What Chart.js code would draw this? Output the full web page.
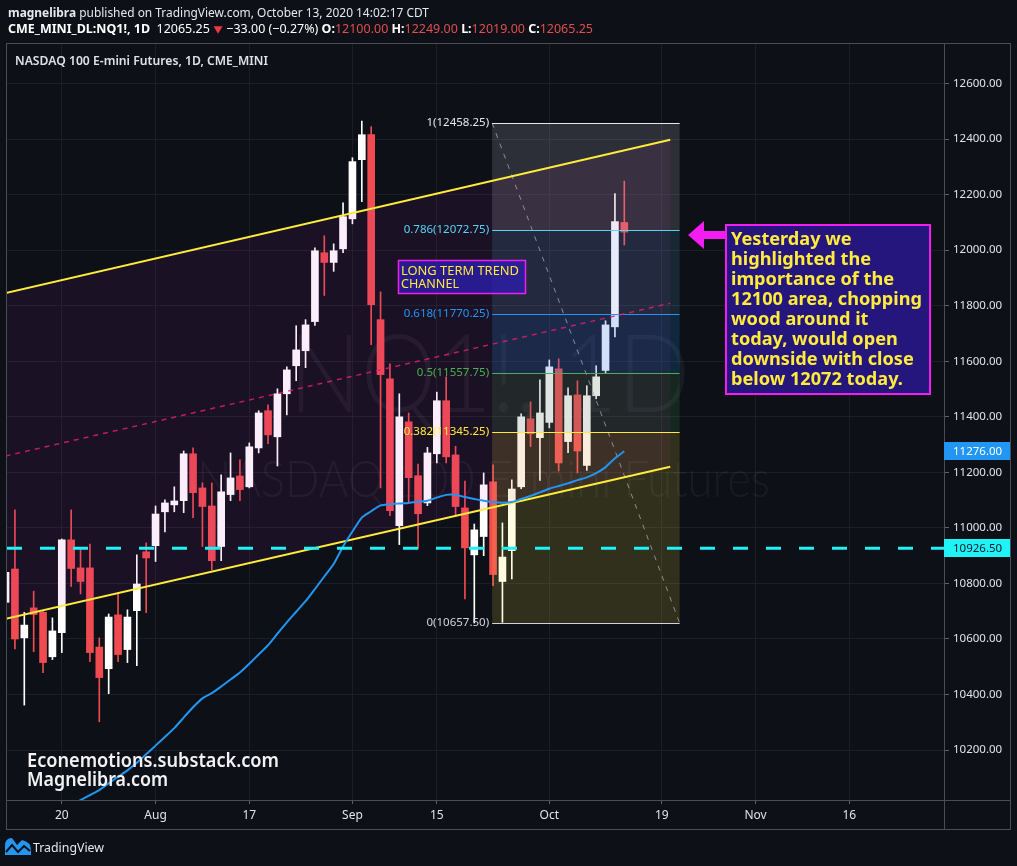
<!DOCTYPE html>
<html><head><meta charset="utf-8">
<script src="https://cdn.jsdelivr.net/npm/chart.js@4.4.0/dist/chart.umd.min.js"></script>
<style>html,body{margin:0;padding:0;background:#0d1017;overflow:hidden}canvas{display:block}</style>
</head><body><canvas id="c" width="1017" height="866"></canvas>
<script>
// ---------------- DATA ----------------
const dates = ['Jul 10','Jul 13','Jul 14','Jul 15','Jul 16','Jul 17','Jul 20','Jul 21','Jul 22','Jul 23','Jul 24','Jul 27','Jul 28','Jul 29','Jul 30','Jul 31',
'Aug 3','Aug 4','Aug 5','Aug 6','Aug 7','Aug 10','Aug 11','Aug 12','Aug 13','Aug 14','Aug 17','Aug 18','Aug 19','Aug 20','Aug 21','Aug 24','Aug 25','Aug 26','Aug 27','Aug 28','Aug 31',
'Sep 1','Sep 2','Sep 3','Sep 4','Sep 8','Sep 9','Sep 10','Sep 11','Sep 14','Sep 15','Sep 16','Sep 17','Sep 18','Sep 21','Sep 22','Sep 23','Sep 24','Sep 25','Sep 28','Sep 29','Sep 30',
'Oct 1','Oct 2','Oct 5','Oct 6','Oct 7','Oct 8','Oct 9','Oct 12','Oct 13'];
const opens = [10732,10852,10604,10712,10696,10536,10623,10957,10856,10856,
10571,10493,10687,10562,10702,10914,10936,11058,11083,11098,
11267,11144,11079,10933,11120,11187,11148,11288,11422,11328,
11483,11584,11638,11743,11991,11956,12005,12113,12326,12416,
11750,11537,11008,11382,11188,11090,11267,11458,11263,11072,
10903,10969,11166,10807,10918,11148,11393,11325,11380,11573,
11311,11479,11225,11476,11567,11724,12100];
const highs = [10880,11065,10696,10772,10700,10676,10960,11065,10921,10942,
10604,10690,10766,10705,10903,10946,11079,11101,11148,11277,
11288,11162,11162,11191,11270,11245,11306,11422,11443,11501,
11580,11728,11750,12009,12052,12023,12171,12333,12465,12445,
11850,11591,11483,11414,11230,11290,11489,11544,11294,11169,
11014,11198,11227,11018,11173,11411,11454,11533,11605,11609,
11504,11530,11512,11584,11746,12204,12249];
const lows = [10700,10564,10362,10554,10479,10526,10551,10789,10762,10518,
10302,10403,10518,10515,10504,10695,10879,10986,11058,11055,
11037,10933,10849,10882,11098,11098,11144,11270,11303,11223,
11407,11530,11577,11729,11837,11924,11991,12095,12175,11660,
11144,11044,10940,11092,10924,11080,11234,11234,11041,10744,
10657.5,10900,10792,10660,10816,11141,11293,11171,11360,11205,
11271,11198,11207,11465,11556,11688,12019];
const closes = [10840,10600,10650,10688,10515,10629,10957,10854,10807,10551,
10461,10679,10544,10679,10798,10892,11050,11090,11097,11267,
11127,11077,10882,11130,11180,11138,11292,11414,11335,11483,
11569,11641,11731,11998,11956,11998,12121,12319,12416,11804,
11552,11062,11400,11181,11051,11270,11458,11256,11077,10928,
10993,11155,10832,10895,11140,11400,11339,11414,11580,11234,
11476,11277,11476,11544,11731,12103,12065.25];
const sma50 = [9872,9890,9909,9927,9946,9964,9982,10001,10020,10038,
10056,10080,10104,10127,10154,10185,10216,10247,10279,10317,
10354,10386,10405,10429,10454,10479,10511,10544,10578,10619,
10660,10698,10736,10780,10825,10870,10933,10987,11037,11060,
11081,11085,11088,11090,11094,11098,11109,11119,11119,11111,
11104,11098,11093,11091,11093,11104,11115,11128,11141,11151,
11161,11172,11182,11197,11219,11251,11276];
const priceTicks = [10200,10400,10600,10800,11000,11200,11400,11600,11800,12000,12200,12400,12600];
const timeTickIndex = [6,16,26,37,46,58,70,80,90];
const timeTickLabels = ['20','Aug','17','Sep','15','Oct','19','Nov','16'];
const channelIndex = [0, 70.9];
const channelUpper = [11845.6, 12397.6];
const channelLower = [10672.4, 11220.5];
const fibIndex = [51.9, 71.9];
const fibRatios = ['1','0.786','0.618','0.5','0.382','0'];
const fibPrices = [12458.25, 12072.75, 11770.25, 11557.75, 11345.25, 10657.5];
const supportLevel = 10926.5;
const xRange = [0.155, 100.1];
const yRange = [10020.2, 12746.2];

// ---------------- STYLE ----------------
const BG = '#0d1017';
const UP = '#ffffff', DN = '#ef4b50';
const TXT = '#d1d4dc';
const RED_TXT = '#e04f4f';
const FONT = '"Noto Sans", "DejaVu Sans", sans-serif';
const fibLineColors = ['#e6e7ec','#5ad2f4','#2196f3','#4caf50','#ffeb3b','#d1d4dc'];
const fibBandColors = ['rgba(200,202,214,0.17)','rgba(90,210,244,0.13)','rgba(33,150,243,0.18)','rgba(76,175,80,0.15)','rgba(255,235,59,0.15)'];
const CYAN = '#1ff3f7';
const MAGENTA = '#f21df0';

const candleColor = c => (closes[c.dataIndex] >= opens[c.dataIndex] ? UP : DN);

function fitText(ctx, text, x, y, w, font, color, baseline) {
  ctx.save();
  ctx.font = font;
  const m = ctx.measureText(text).width;
  ctx.translate(x, y);
  ctx.scale(w / m, 1);
  ctx.fillStyle = color;
  ctx.textAlign = 'left';
  ctx.textBaseline = baseline || 'middle';
  ctx.fillText(text, 0, 0);
  ctx.restore();
}
function drawSegs(ctx, segs, x, y, totalW, size) {
  let tot = 0;
  segs.forEach(s => {
    ctx.font = (s.b ? 'bold ' : '') + size + 'px ' + FONT;
    s.w = s.tri ? size * 0.8 : ctx.measureText(s.t).width;
    tot += s.w;
  });
  const sc = totalW / tot;
  ctx.save();
  ctx.translate(x, y);
  ctx.scale(sc, 1);
  ctx.textBaseline = 'middle';
  ctx.textAlign = 'left';
  let cx = 0;
  segs.forEach(s => {
    ctx.fillStyle = s.c;
    if (s.tri) {
      ctx.beginPath();
      ctx.moveTo(cx + 0.5, -size * 0.25);
      ctx.lineTo(cx + s.w - 0.5, -size * 0.25);
      ctx.lineTo(cx + s.w / 2, size * 0.33);
      ctx.closePath();
      ctx.fill();
    } else {
      ctx.font = (s.b ? 'bold ' : '') + size + 'px ' + FONT;
      ctx.fillText(s.t, cx, 0);
    }
    cx += s.w;
  });
  ctx.restore();
}

const overlay = {
  id: 'overlay',
  beforeDatasetsDraw(chart) {
    const ctx = chart.ctx, a = chart.chartArea;
    ctx.save();
    ctx.beginPath(); ctx.rect(a.left, a.top, a.right - a.left, a.bottom - a.top); ctx.clip();
    const wm = 'rgba(175,178,200,0.075)';
    fitText(ctx, 'NQ1!, 1D', 289, 412, 401, '300 108px Lato, ' + FONT, wm, 'alphabetic');
    fitText(ctx, 'NASDAQ 100 E-mini Futures', 197, 497, 573, '300 51px Lato, ' + FONT, wm, 'alphabetic');
    ctx.restore();
  },
  afterDatasetDraw(chart, args) {
    if (args.index !== 1) return;
    const ctx = chart.ctx, a = chart.chartArea, xs = chart.scales.x, ys = chart.scales.y;
    ctx.save();
    ctx.beginPath(); ctx.rect(a.left, a.top, a.right - a.left, a.bottom - a.top); ctx.clip();
    // channel fill
    ctx.beginPath();
    channelIndex.forEach((v, k) => {
      const px = xs.getPixelForValue(v), py = ys.getPixelForValue(channelUpper[k]);
      k ? ctx.lineTo(px, py) : ctx.moveTo(px, py);
    });
    for (let k = channelIndex.length - 1; k >= 0; k--) ctx.lineTo(xs.getPixelForValue(channelIndex[k]), ys.getPixelForValue(channelLower[k]));
    ctx.closePath();
    ctx.fillStyle = 'rgba(210,40,190,0.08)';
    ctx.fill();
    // fib bands
    const fx0 = xs.getPixelForValue(fibIndex[0]), fx1 = xs.getPixelForValue(fibIndex[1]);
    for (let k = 0; k < fibPrices.length - 1; k++) {
      const y0 = ys.getPixelForValue(fibPrices[k]), y1 = ys.getPixelForValue(fibPrices[k + 1]);
      ctx.fillStyle = fibBandColors[k];
      ctx.fillRect(fx0, y0, fx1 - fx0, y1 - y0);
    }
    // fib trend diagonal
    ctx.beginPath();
    ctx.setLineDash([5, 6]);
    ctx.strokeStyle = 'rgba(170,173,185,0.75)';
    ctx.lineWidth = 1;
    ctx.moveTo(fx0, ys.getPixelForValue(fibPrices[0]));
    ctx.lineTo(fx1, ys.getPixelForValue(fibPrices[fibPrices.length - 1]));
    ctx.stroke();
    ctx.setLineDash([]);
    // fib lines
    fibPrices.forEach((p, k) => {
      const y = Math.round(ys.getPixelForValue(p)) + 0.5;
      ctx.beginPath(); ctx.moveTo(fx0, y); ctx.lineTo(fx1, y);
      ctx.strokeStyle = fibLineColors[k]; ctx.lineWidth = 1; ctx.stroke();
    });
    ctx.restore();
    // fib labels
    ctx.save();
    ctx.font = '11.5px ' + FONT;
    ctx.textAlign = 'right';
    ctx.textBaseline = 'middle';
    fibPrices.forEach((p, k) => {
      ctx.fillStyle = fibLineColors[k];
      ctx.fillText(fibRatios[k] + '(' + p.toFixed(2) + ')', fx0 - 3, ys.getPixelForValue(p));
    });
    ctx.restore();
  },
  afterDraw(chart) {
    const ctx = chart.ctx, a = chart.chartArea, ys = chart.scales.y;
    // frame
    ctx.save();
    ctx.strokeStyle = '#4a4d58';
    ctx.lineWidth = 1;
    ctx.strokeRect(6.5, 43.5, 1004, 786);
    ctx.beginPath();
    ctx.moveTo(a.right + 0.5, 43); ctx.lineTo(a.right + 0.5, 830);
    ctx.moveTo(7, a.bottom + 0.5); ctx.lineTo(1011, a.bottom + 0.5);
    ctx.stroke();
    // price axis highlight labels
    const boxLabel = (val, bg, fg) => {
      const y = ys.getPixelForValue(val);
      ctx.fillStyle = bg;
      ctx.fillRect(a.right, Math.round(y) - 9, 66, 18);
      ctx.font = '11.5px ' + FONT;
      ctx.textAlign = 'left'; ctx.textBaseline = 'middle';
      ctx.fillStyle = fg;
      ctx.fillText(val.toFixed(2), a.right + 9, y);
    };
    boxLabel(sma50[sma50.length - 1], '#2196f3', '#ffffff');
    boxLabel(supportLevel, CYAN, '#131722');
    // small channel label box
    ctx.fillStyle = 'rgba(44,30,170,0.8)';
    ctx.fillRect(398, 260, 128, 34);
    ctx.strokeStyle = MAGENTA; ctx.lineWidth = 1.5;
    ctx.strokeRect(398.5, 260.5, 127, 33);
    fitText(ctx, 'LONG TERM TREND', 401, 271, 118, '12.5px ' + FONT, '#ffeb3b');
    fitText(ctx, 'CHANNEL', 401, 284.5, 58, '12.5px ' + FONT, '#ffeb3b');
    // annotation box
    ctx.fillStyle = '#24167c';
    ctx.fillRect(726, 225, 204, 169);
    ctx.strokeStyle = MAGENTA; ctx.lineWidth = 2;
    ctx.strokeRect(726, 225, 204, 169);
    const lines = ['Yesterday we','highlighted the','importance of the','12100 area, chopping','wood around it','today, would open','downside with close','below 12072 today.'];
    const f = 'bold 18px ' + FONT;
    ctx.font = f;
    const sc = 191 / ctx.measureText(lines[3]).width;
    lines.forEach((t, k) => {
      ctx.font = f;
      fitText(ctx, t, 731, 240 + k * 20, ctx.measureText(t).width * sc, f, '#ffeb3b');
    });
    // arrow
    ctx.fillStyle = MAGENTA;
    ctx.beginPath();
    ctx.moveTo(688, 235); ctx.lineTo(704, 221); ctx.lineTo(704, 231); ctx.lineTo(726, 231);
    ctx.lineTo(726, 239); ctx.lineTo(704, 239); ctx.lineTo(704, 249); ctx.closePath();
    ctx.fill();
    // header
    drawSegs(ctx, [{t:'magnelibra', b:1, c:'#e6e8ee'}, {t:' published on TradingView.com, October 13, 2020 14:02:17 CDT', c:'#e6e8ee'}], 8, 13.5, 421, 13);
    const L = opens.length - 1;
    drawSegs(ctx, [
      {t:'CME_MINI_DL:NQ1!, 1D', b:1, c:'#ffffff'},
      {t:'  ' + closes[L].toFixed(2) + ' ', c:'#ffffff'},
      {tri:1, c:'#f23645'},
      {t:' \u221233.00 (\u22120.27%) ', c:'#ffffff'},
      {t:'O:', b:1, c:'#ffffff'}, {t:opens[L].toFixed(2), c:RED_TXT},
      {t:' H:', b:1, c:'#ffffff'}, {t:highs[L].toFixed(2), c:RED_TXT},
      {t:' L:', b:1, c:'#ffffff'}, {t:lows[L].toFixed(2), c:RED_TXT},
      {t:' C:', b:1, c:'#ffffff'}, {t:closes[L].toFixed(2), c:RED_TXT}
    ], 8, 29.5, 585, 13);
    fitText(ctx, 'NASDAQ 100 E-mini Futures, 1D, CME_MINI', 15, 61.5, 253, '600 12.5px ' + FONT, '#dfe1e7');
    // watermark credits bottom-left
    fitText(ctx, 'Econemotions.substack.com', 27, 767, 252, '600 19px ' + FONT, '#f2f2f4', 'alphabetic');
    fitText(ctx, 'Magnelibra.com', 27, 786, 141, '600 19px ' + FONT, '#f2f2f4', 'alphabetic');
    // footer TradingView logo
    ctx.fillStyle = '#2196f3';
    ctx.beginPath();
    ctx.moveTo(5, 855); ctx.lineTo(5, 846); ctx.quadraticCurveTo(5, 838, 12, 838);
    ctx.lineTo(17, 845); ctx.lineTo(22, 840); ctx.quadraticCurveTo(31, 842, 31, 850);
    ctx.lineTo(31, 855); ctx.closePath(); ctx.fill();
    ctx.strokeStyle = BG; ctx.lineWidth = 2;
    ctx.beginPath(); ctx.moveTo(6, 852); ctx.lineTo(12, 845); ctx.lineTo(18, 852); ctx.lineTo(24, 846); ctx.lineTo(30, 851); ctx.stroke();
    fitText(ctx, 'TradingView', 33, 848, 71, '13px ' + FONT, '#e6e8ee');
    ctx.restore();
  }
};

Chart.defaults.font.family = FONT;
new Chart(document.getElementById('c'), {
  type: 'bar',
  data: {
    datasets: [
      { type: 'bar', label: 'wick', data: dates.map((d, i) => ({ x: i, y: [lows[i], highs[i]] })),
        backgroundColor: candleColor, barThickness: 1, grouped: false, order: 10, minBarLength: 1 },
      { type: 'bar', label: 'body', data: dates.map((d, i) => ({ x: i, y: [opens[i], closes[i]] })),
        backgroundColor: candleColor, barThickness: 7, grouped: false, order: 9, minBarLength: 1 },
      { type: 'line', label: 'upper', data: channelIndex.map((x, k) => ({ x, y: channelUpper[k] })),
        borderColor: '#ffeb3b', borderWidth: 2, pointRadius: 0, order: 5 },
      { type: 'line', label: 'lower', data: channelIndex.map((x, k) => ({ x, y: channelLower[k] })),
        borderColor: '#ffeb3b', borderWidth: 2, pointRadius: 0, order: 5 },
      { type: 'line', label: 'mid', data: channelIndex.map((x, k) => ({ x, y: (channelUpper[k] + channelLower[k]) / 2 })),
        borderColor: 'rgba(220,30,110,0.85)', borderWidth: 1.5, borderDash: [5, 5], pointRadius: 0, order: 5 },
      { type: 'line', label: 'SMA', data: sma50.map((v, i) => ({ x: i, y: v })),
        borderColor: '#2196f3', borderWidth: 2, pointRadius: 0, tension: 0.2, order: 4 },
      { type: 'line', label: 'support', data: xRange.map(x => ({ x, y: supportLevel })),
        borderColor: CYAN, borderWidth: 3, borderDash: [15, 18], pointRadius: 0, order: 3 }
    ]
  },
  options: {
    responsive: false, animation: false, devicePixelRatio: 1, events: [],
    layout: { padding: { left: 7, top: 43, right: 7, bottom: 37 } },
    plugins: { legend: { display: false }, tooltip: { enabled: false } },
    scales: {
      x: {
        type: 'linear', min: xRange[0], max: xRange[1], offset: false,
        afterBuildTicks: s => { s.ticks = timeTickIndex.map(v => ({ value: v })); },
        afterFit: s => { s.height = 29; },
        ticks: { callback: (v, i) => timeTickLabels[i], color: '#e0e3ea', font: { size: 12 }, maxRotation: 0, autoSkip: false, padding: 4 },
        grid: { color: '#1b1e29', offset: false, tickColor: '#5d606b', tickLength: 4 },
        border: { display: false }
      },
      y: {
        type: 'linear', position: 'right', min: yRange[0], max: yRange[1], beginAtZero: false,
        afterBuildTicks: s => { s.ticks = priceTicks.map(v => ({ value: v })); },
        afterFit: s => { s.width = 66; },
        ticks: { callback: v => Number(v).toFixed(2), color: '#e0e3ea', font: { size: 11.5 }, padding: 4 },
        grid: { color: '#1b1e29', tickColor: '#5d606b', tickLength: 5 },
        border: { display: false }
      }
    }
  },
  plugins: [overlay]
});
</script>
</body></html>
